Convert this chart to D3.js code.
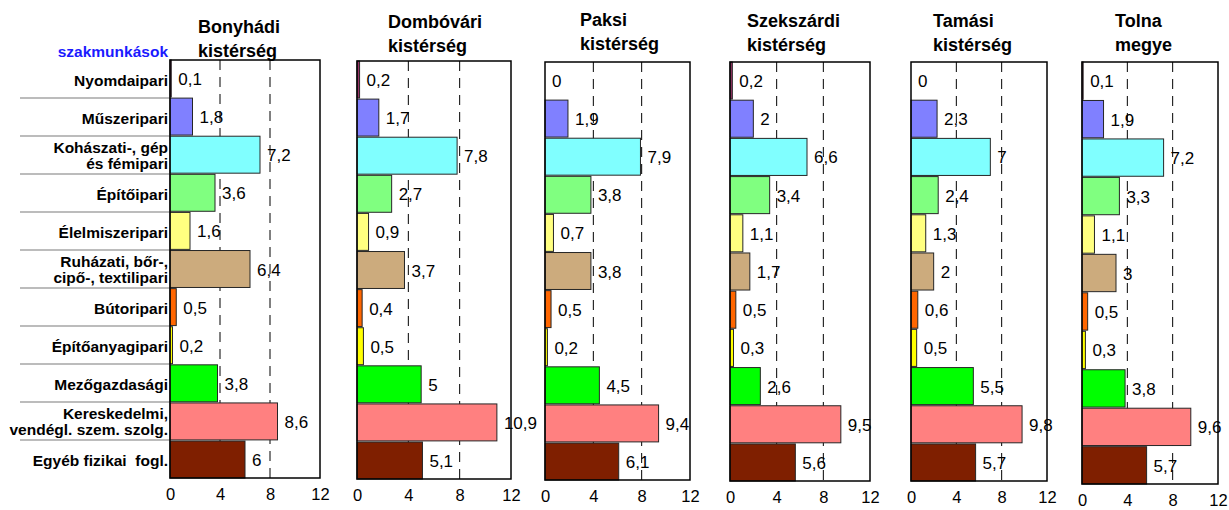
<!DOCTYPE html>
<html lang="hu">
<head>
    <meta charset="UTF-8">
    <title>Szakmunkások kistérségenként</title>
    <style>
        body {
            margin: 0;
            background: #fff;
        }
        svg text {
            font-family: Arial, "Liberation Sans", sans-serif;
        }
    </style>
    <script src="https://cdn.jsdelivr.net/npm/d3@7"></script>
</head>
<body>
    <script type="module">
        // Data
        const categories = [
            "Nyomdaipari",
            "Műszeripari",
            "Kohászati-, gép\nés fémipari",
            "Építőipari",
            "Élelmiszeripari",
            "Ruházati, bőr-,\ncipő-, textilipari",
            "Bútoripari",
            "Építőanyagipari",
            "Mezőgazdasági",
            "Kereskedelmi,\nvendégl. szem. szolg.",
            "Egyéb fizikai  fogl."
        ];
        const colors = ["#993366", "#8080ff", "#80ffff", "#80ff80", "#ffff80", "#ccab7d",
            "#ff6600", "#ffff00", "#00ff00", "#ff8080", "#7f1f00"];

        const regions = ["Bonyhádi\nkistérség", "Dombóvári\nkistérség", "Paksi\nkistérség",
            "Szekszárdi\nkistérség", "Tamási\nkistérség", "Tolna\nmegye"];

        const bonyhadi   = [0.1, 1.8, 7.2, 3.6, 1.6, 6.4, 0.5, 0.2, 3.8, 8.6, 6];
        const dombovari  = [0.2, 1.7, 7.8, 2.7, 0.9, 3.7, 0.4, 0.5, 5, 10.9, 5.1];
        const paksi      = [0, 1.9, 7.9, 3.8, 0.7, 3.8, 0.5, 0.2, 4.5, 9.4, 6.1];
        const szekszardi = [0.2, 2, 6.6, 3.4, 1.1, 1.7, 0.5, 0.3, 2.6, 9.5, 5.6];
        const tamasi     = [0, 2.3, 7, 2.4, 1.3, 2, 0.6, 0.5, 5.5, 9.8, 5.7];
        const tolna      = [0.1, 1.9, 7.2, 3.3, 1.1, 3, 0.5, 0.3, 3.8, 9.6, 5.7];
        const series = [bonyhadi, dombovari, paksi, szekszardi, tamasi, tolna];

        const xTicks = [0, 4, 8, 12];

        // Panel boxes (pixels)
        const panels = [
            {x0: 170, x1: 320, top: 60, bottom: 478, tx: 198, ty: 33},
            {x0: 357, x1: 511, top: 61, bottom: 479, tx: 388, ty: 28},
            {x0: 545, x1: 690, top: 62, bottom: 480, tx: 580, ty: 26},
            {x0: 730, x1: 870, top: 62, bottom: 481, tx: 747, ty: 27},
            {x0: 911, x1: 1047, top: 62, bottom: 481, tx: 933, ty: 27},
            {x0: 1082, x1: 1218, top: 62, bottom: 484, tx: 1115, ty: 27}
        ];

        const width = 1229;
        const height = 510;
        const svg = d3.select("body").append("svg").attr("width", width).attr("height", height);

        const fmt = v => String(v).replace(".", ",");

        // Category labels (left of first panel)
        const p0 = panels[0];
        const yCat = d3.scaleBand().domain(d3.range(categories.length))
            .range([p0.top, p0.bottom]);

        svg.append("text")
            .attr("x", 168).attr("y", 57)
            .attr("text-anchor", "end")
            .attr("font-size", 15.5).attr("font-weight", "bold")
            .attr("fill", "#1a1aff")
            .text("szakmunkások");

        svg.selectAll("line.sep")
            .data(d3.range(1, categories.length))
            .join("line")
            .attr("class", "sep")
            .attr("x1", 20).attr("x2", p0.x0)
            .attr("y1", d => yCat(d)).attr("y2", d => yCat(d))
            .attr("stroke", "#a6a6a6").attr("stroke-width", 1.5);

        const catText = svg.selectAll("text.cat")
            .data(categories)
            .join("text")
            .attr("class", "cat")
            .attr("text-anchor", "end")
            .attr("font-size", 15.5).attr("font-weight", "bold")
            .attr("fill", "#000")
            .style("white-space", "pre");

        catText.each(function (d, i) {
            const lines = d.split("\n");
            const c = yCat(i) + yCat.bandwidth() / 2;
            const t = d3.select(this);
            if (lines.length === 1) {
                t.append("tspan").attr("x", 168).attr("y", c + 6.5).text(lines[0]);
            } else {
                t.append("tspan").attr("x", 168).attr("y", c - 2).text(lines[0]);
                t.append("tspan").attr("x", 168).attr("y", c + 13.5).text(lines[1]);
            }
        });

        // Panels
        panels.forEach((p, k) => {
            const values = series[k];
            const x = d3.scaleLinear().domain([0, 12]).range([p.x0, p.x1]);
            const y = d3.scaleBand().domain(d3.range(categories.length))
                .range([p.top, p.bottom]).paddingInner(0.03);

            const g = svg.append("g");

            // title
            const title = g.append("text")
                .attr("font-size", 18).attr("font-weight", "bold").attr("fill", "#000");
            regions[k].split("\n").forEach((line, j) => {
                title.append("tspan").attr("x", p.tx).attr("y", p.ty + j * 23.5).text(line);
            });

            // dashed grid
            g.selectAll("line.grid")
                .data([4, 8])
                .join("line")
                .attr("class", "grid")
                .attr("x1", d => x(d)).attr("x2", d => x(d))
                .attr("y1", p.top).attr("y2", p.bottom)
                .attr("stroke", "#000").attr("stroke-width", 1)
                .attr("stroke-dasharray", "10,7");

            // bars
            g.selectAll("rect.bar")
                .data(values)
                .join("rect")
                .attr("class", "bar")
                .attr("x", x(0))
                .attr("y", (d, i) => y(i))
                .attr("width", d => x(d) - x(0))
                .attr("height", y.bandwidth())
                .attr("fill", (d, i) => colors[i])
                .attr("stroke", d => d > 0 ? "#262626" : "none")
                .attr("stroke-width", 1);

            // value labels
            g.selectAll("text.val")
                .data(values)
                .join("text")
                .attr("class", "val")
                .attr("x", d => x(d) + 7)
                .attr("y", (d, i) => y(i) + y.bandwidth() / 2 + 6.5)
                .attr("font-size", 17).attr("fill", "#000")
                .text(d => fmt(d));

            // frame
            g.append("rect")
                .attr("x", p.x0).attr("y", p.top)
                .attr("width", p.x1 - p.x0).attr("height", p.bottom - p.top)
                .attr("fill", "none").attr("stroke", "#000").attr("stroke-width", 1.5);

            // x axis
            const axis = g.append("g")
                .attr("transform", `translate(0,${p.bottom})`)
                .call(d3.axisBottom(x).tickValues(xTicks).tickSize(0).tickPadding(10));
            axis.select(".domain").remove();
            axis.selectAll("text")
                .attr("font-size", 16.5)
                .attr("font-family", "Arial, 'Liberation Sans', sans-serif")
                .attr("fill", "#000");
        });
    </script>
</body>
</html>
